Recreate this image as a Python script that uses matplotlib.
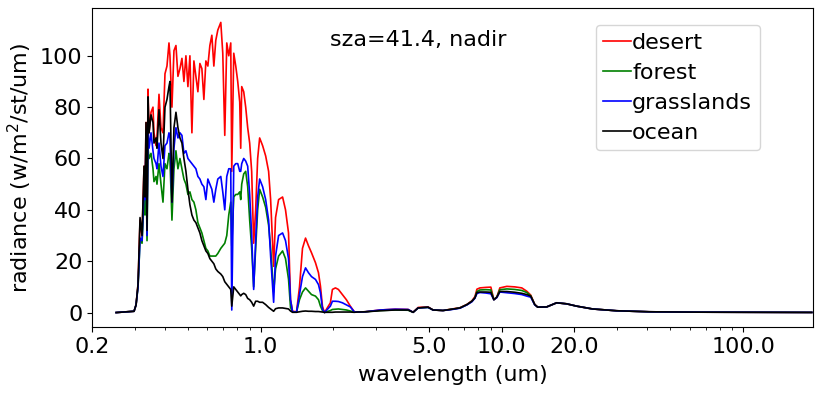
import matplotlib
matplotlib.use("Agg")
import matplotlib.pyplot as plt
from matplotlib.ticker import FormatStrFormatter, NullFormatter

# wavelength grid (um)
wavelength = [
    0.2517, 0.2986, 0.3044, 0.3102, 0.3162, 0.3223, 0.3285, 0.3316, 0.3348, 0.3380,
    0.3412, 0.3445, 0.3511, 0.3578, 0.3612, 0.3683, 0.3717, 0.3789, 0.3862, 0.3936,
    0.4012, 0.4089, 0.4168, 0.4207, 0.4288, 0.4371, 0.4455, 0.4540, 0.4628, 0.4717,
    0.4807, 0.4900, 0.4994, 0.5090, 0.5188, 0.5288, 0.5389, 0.5493, 0.5599, 0.5706,
    0.5816, 0.5928, 0.6042, 0.6158, 0.6276, 0.6397, 0.6516, 0.6643, 0.6836, 0.6966,
    0.7100, 0.7237, 0.7376, 0.7517, 0.7590, 0.7736, 0.7885, 0.8035, 0.8190, 0.8268,
    0.8347, 0.8508, 0.8670, 0.8837, 0.9006, 0.9179, 0.9356, 0.9535, 0.9719, 0.9905,
    1.019, 1.049, 1.079, 1.100, 1.132, 1.153, 1.187, 1.233, 1.268, 1.305,
    1.330, 1.356, 1.409, 1.449, 1.491, 1.535, 1.579, 1.625, 1.688, 1.737,
    1.770, 1.804, 1.839, 1.946, 1.984, 2.042, 2.101, 2.183, 2.267, 2.354,
    2.445, 2.517, 2.716, 3.132, 3.613, 4.089, 4.288, 4.497, 4.945, 5.187,
    5.704, 6.216, 6.707, 7.170, 7.516, 7.734, 7.883, 8.111, 8.589, 9.006,
    9.268, 9.535, 9.811, 10.49, 11.32, 12.10, 12.69, 13.18, 13.69, 14.09,
    15.35, 16.88, 18.56, 20.41, 23.77, 29.87, 40.89, 65.79, 116.4, 192.8,
]

desert = [
    0, 0.5, 3, 11, 36, 30, 57, 46, 74, 35,
    87, 70, 78, 80, 70, 65, 68, 85, 72, 70,
    93, 96, 105, 100, 80, 102, 104, 92, 95, 99,
    90, 100, 88, 100, 70, 98, 92, 86, 97, 95,
    83, 98, 96, 104, 108, 96, 106, 110, 113, 101,
    69, 105, 100, 105, 55, 101, 96, 90, 82, 64,
    88, 86, 80, 72, 66, 55, 27, 40, 60, 68,
    65, 61, 55, 44, 18, 37, 44, 45, 40, 31,
    5, 0.5, 0.3, 10, 25, 29, 26, 23.3, 19.4, 15.5,
    10.3, 2.5, 0, 3.8, 9, 9.6, 9, 7, 5, 2.5,
    0.3, 0.2, 0.3, 1.0, 1.3, 1.2, 0.1, 2.0, 2.2, 1.0,
    0.8, 1.4, 1.9, 3.2, 4.6, 6.2, 9.1, 9.6, 9.8, 9.9,
    5, 6, 9.6, 10.2, 10.0, 9.6, 8.3, 6.8, 3.2, 2.1,
    2.2, 3.8, 3.4, 2.5, 1.4, 0.7, 0.3, 0.15, 0.08, 0.05,
]

forest = [
    0, 0.5, 3, 10, 28, 27, 44, 38, 60, 28,
    64, 60, 62, 56, 51, 53, 50, 58, 50, 43,
    58, 56, 62, 60, 36, 56, 63, 56, 60, 56,
    52, 50, 46, 47, 44, 43, 40, 35, 33, 31,
    28, 25, 24, 22, 22, 22, 22, 23, 25, 26,
    27, 30, 38, 43, 26, 45, 46, 46, 47, 44,
    50, 54, 55, 49, 36, 25, 10, 25, 40, 48,
    45, 41, 34, 25, 8, 17, 22, 24, 21, 13,
    2, 0.3, 0.2, 5, 8, 9.6, 8.3, 7, 6.4, 5,
    2.5, 0.8, 0, 0.8, 1.2, 1.3, 1.4, 1.2, 1.0, 0.6,
    0.2, 0.2, 0.3, 0.8, 1.0, 0.9, 0.1, 1.8, 2.0, 1.0,
    0.8, 1.3, 1.8, 3.1, 4.4, 5.8, 8.2, 8.8, 8.9, 8.8,
    5, 6, 8.9, 9.2, 9.0, 8.6, 7.8, 6.5, 3.1, 2.1,
    2.2, 3.8, 3.4, 2.5, 1.4, 0.7, 0.3, 0.15, 0.08, 0.05,
]

grasslands = [
    0, 0.5, 3, 10, 29, 28, 48, 44, 66, 30,
    72, 64, 70, 63, 60, 58, 56, 66, 57, 53,
    65, 66, 70, 68, 43, 64, 72, 68, 70, 69,
    62, 63, 60, 59, 58, 57, 56, 53, 52, 50,
    49, 44, 52, 50, 48, 43, 48, 52, 53, 47,
    40, 53, 56, 56, 1, 57, 58, 58, 55, 55,
    58, 60, 59, 57, 46, 30, 9, 28, 45, 52,
    49, 44, 36, 22, 4, 22, 30, 31, 28, 21,
    5, 0.3, 0.2, 7, 14, 17.4, 15.5, 14, 12.9, 10.9,
    7.7, 1.5, 0, 2.5, 4.4, 4.4, 4.3, 3.8, 3.0, 2.2,
    0.3, 0.2, 0.3, 1.0, 1.3, 1.2, 0.1, 1.8, 2.0, 1.0,
    0.8, 1.2, 1.7, 3.0, 4.2, 5.6, 7.4, 7.8, 7.6, 7.3,
    5, 5.8, 8.0, 7.7, 7.4, 7.0, 6.4, 6.0, 3.0, 2.1,
    2.2, 3.8, 3.4, 2.5, 1.4, 0.7, 0.3, 0.15, 0.08, 0.05,
]

ocean = [
    0, 0.5, 3, 11, 37, 30, 57, 45, 74, 32,
    84, 70, 77, 74, 66, 68, 64, 79, 66, 60,
    80, 83, 88, 90, 43, 72, 78, 72, 68, 66,
    60, 55, 48, 42, 38, 36, 35, 33, 31, 28,
    26, 24, 23, 21, 20, 19, 17, 16, 15, 14,
    12, 11, 10, 9, 2.5, 10, 9, 8, 7, 6.5,
    7, 7.5, 7, 5.5, 5, 4, 2.5, 4.4, 4.4, 4,
    4, 3.1, 2, 1.4, 0.5, 1.5, 1.8, 1.8, 1.6, 1.4,
    0.6, 0.1, 0.1, 0.3, 0.5, 0.6, 0.5, 0.5, 0.4, 0.4,
    0.3, 0.2, 0.1, 0.1, 0.1, 0.2, 0.2, 0.2, 0.2, 0.2,
    0.1, 0.2, 0.3, 0.7, 1.0, 1.0, 0.1, 1.8, 2.1, 1.0,
    0.8, 1.3, 1.8, 3.1, 4.4, 5.7, 7.8, 8.0, 8.0, 7.9,
    5, 6, 8.2, 8.2, 7.9, 7.5, 7.0, 6.4, 3.1, 2.1,
    2.2, 3.8, 3.4, 2.5, 1.4, 0.7, 0.3, 0.15, 0.08, 0.05,
]

series = [("desert", desert, "red"), ("forest", forest, "green"),
          ("grasslands", grasslands, "blue"), ("ocean", ocean, "black")]

plt.rcParams["font.size"] = 16

fig = plt.figure(figsize=(8.22, 3.95), dpi=100)
ax = fig.add_axes([0.112, 0.172, 0.877, 0.808])

for name, vals, color in series:
    ax.plot(wavelength, vals, color=color, lw=1.2, label=name)

ax.set_xscale("log")
ax.set_xlim(0.2, 195)
ax.set_xticks([0.2, 1.0, 5.0, 10.0, 20.0, 100.0])
ax.xaxis.set_major_formatter(FormatStrFormatter("%.1f"))
ax.xaxis.set_minor_formatter(NullFormatter())
ax.set_yticks([0, 20, 40, 60, 80, 100])

ax.set_xlabel("wavelength (um)", labelpad=6)
ax.set_ylabel("radiance (w/m$^2$/st/um)")
ax.text(0.452, 0.9, "sza=41.4, nadir", transform=ax.transAxes,
        ha="center", va="center")

# legend sits a little left of the right spine
ax.legend(loc="upper right", bbox_to_anchor=(0.9265, 0.947), borderaxespad=0,
          handlelength=1.25, handletextpad=0.05, labelspacing=0.45,
          borderpad=0.35)

fig.savefig("out.png", dpi=100)
